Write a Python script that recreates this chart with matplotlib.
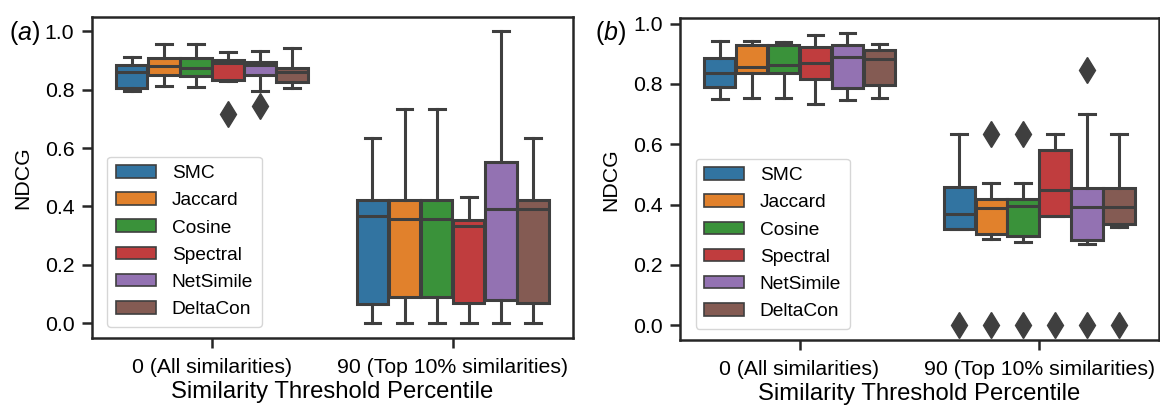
import matplotlib
matplotlib.use("Agg")
import matplotlib.pyplot as plt
from matplotlib.patches import Patch
import numpy as np

plt.rcParams['font.family'] = ['Liberation Sans', 'DejaVu Sans']
plt.rcParams['mathtext.fontset'] = 'custom'
plt.rcParams['mathtext.rm'] = 'Liberation Sans'
plt.rcParams['mathtext.it'] = 'Liberation Sans:italic'

methods = ["SMC", "Jaccard", "Cosine", "Spectral", "NetSimile", "DeltaCon"]
groups = ["0 (All similarities)", "90 (Top 10% similarities)"]
colors = ["#3274a1", "#e1812c", "#3a923a", "#c03d3e", "#9372b2", "#845b53"]

# panel (a): box stats per group, per method
a_whislo = [[0.797, 0.813, 0.809, 0.830, 0.795, 0.806], [0.0, 0.0, 0.0, 0.0, 0.0, 0.0]]
a_q1 = [[0.805, 0.849, 0.846, 0.832, 0.849, 0.828], [0.066, 0.089, 0.089, 0.070, 0.079, 0.068]]
a_med = [[0.860, 0.880, 0.875, 0.892, 0.886, 0.860], [0.369, 0.357, 0.357, 0.332, 0.390, 0.392]]
a_q3 = [[0.886, 0.909, 0.909, 0.901, 0.895, 0.875], [0.421, 0.421, 0.421, 0.355, 0.553, 0.421]]
a_whishi = [[0.912, 0.957, 0.957, 0.928, 0.932, 0.944], [0.633, 0.734, 0.734, 0.432, 1.0, 0.633]]
a_fliers = [[[], [], [], [0.717], [0.744], []], [[], [], [], [], [], []]]

# panel (b)
b_whislo = [[0.751, 0.755, 0.755, 0.735, 0.746, 0.753], [0.320, 0.285, 0.276, 0.361, 0.271, 0.325]]
b_q1 = [[0.790, 0.836, 0.836, 0.818, 0.788, 0.796], [0.320, 0.304, 0.296, 0.361, 0.284, 0.335]]
b_med = [[0.836, 0.856, 0.864, 0.869, 0.889, 0.882], [0.370, 0.390, 0.394, 0.447, 0.392, 0.392]]
b_q3 = [[0.887, 0.928, 0.930, 0.922, 0.928, 0.914], [0.459, 0.418, 0.418, 0.580, 0.456, 0.456]]
b_whishi = [[0.942, 0.942, 0.939, 0.964, 0.969, 0.934], [0.633, 0.472, 0.472, 0.633, 0.702, 0.633]]
b_fliers = [[[], [], [], [], [], []], [[0.0], [0.633, 0.0], [0.633, 0.0], [0.0], [0.845, 0.0], [0.0]]]

LINE = "#3f3f3f"
LW = 2.2
n = len(methods)
bw = 0.8 / n


def draw_panel(ax, whislo, q1, med, q3, whishi, fliers, tag, tagx):
    for g in range(len(groups)):
        for m in range(n):
            st = dict(whislo=whislo[g][m], q1=q1[g][m], med=med[g][m],
                      q3=q3[g][m], whishi=whishi[g][m], fliers=fliers[g][m])
            pos = g - 0.4 + bw * (m + 0.5)
            ax.bxp([st], positions=[pos], widths=[bw * 0.98], patch_artist=True,
                   manage_ticks=False,
                   boxprops=dict(facecolor=colors[m], edgecolor=LINE, linewidth=LW),
                   medianprops=dict(color=LINE, linewidth=LW),
                   whiskerprops=dict(color=LINE, linewidth=LW),
                   capprops=dict(color=LINE, linewidth=LW),
                   flierprops=dict(marker='d', markerfacecolor=LINE, markeredgecolor=LINE,
                                   markersize=13, linestyle='none'))
    ax.set_xlim(-0.5, 1.5)
    ax.set_xticks(range(len(groups)))
    ax.set_xticklabels(groups, fontsize=15.3)
    ax.set_yticks(np.arange(0, 1.01, 0.2))
    ax.set_yticklabels([f"{v:.1f}" for v in np.arange(0, 1.01, 0.2)], fontsize=15.3)
    ax.tick_params(length=7.5, width=1.8, color="#262626", pad=5)
    ax.tick_params(axis='x', pad=7)
    for s in ax.spines.values():
        s.set_linewidth(1.8)
        s.set_color("#262626")
    ax.set_xlabel("Similarity Threshold Percentile", fontsize=17.2, labelpad=3)
    ax.set_ylabel("NDCG", fontsize=15.3, labelpad=9)
    handles = [Patch(facecolor=c, edgecolor=LINE, linewidth=1.2) for c in colors]
    ax.legend(handles, methods, loc='lower left', bbox_to_anchor=(0.013, 0.005),
              fontsize=13.8, handlelength=2.1, handleheight=0.63, handletextpad=0.8,
              borderpad=0.45, borderaxespad=0.5, labelspacing=0.53,
              framealpha=0.8, edgecolor="#cccccc")
    fig.text(tagx, 0.919, tag, fontsize=18, ha='left', va='center')


fig = plt.figure(figsize=(11.6, 4.09), dpi=100)
ax1 = fig.add_axes([0.079, 0.174, 0.415, 0.785])
ax2 = fig.add_axes([0.586, 0.169, 0.413, 0.786])

draw_panel(ax1, a_whislo, a_q1, a_med, a_q3, a_whishi, a_fliers, r"$(a)$", 0.008)
draw_panel(ax2, b_whislo, b_q1, b_med, b_q3, b_whishi, b_fliers, r"$(b)$", 0.513)

fig.savefig("out.png", dpi=100)
